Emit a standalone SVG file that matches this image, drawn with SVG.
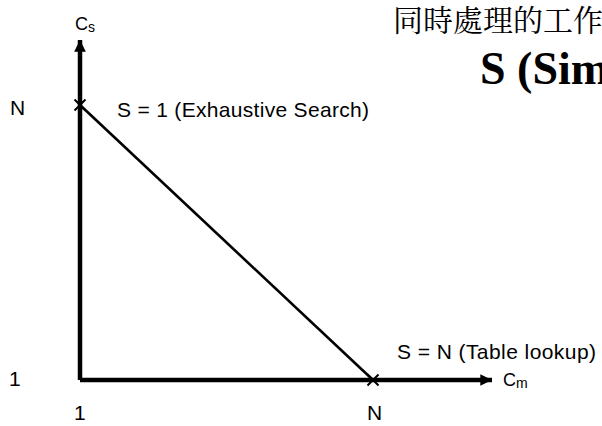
<svg xmlns="http://www.w3.org/2000/svg" width="602" height="426" viewBox="0 0 602 426">
<style>
.lbl{font-family:"Liberation Sans",Arial,sans-serif;font-size:21px;fill:#000}
.ax{font-family:"Liberation Sans",Arial,sans-serif;font-size:18px;fill:#000}
.sub{font-size:14px}
.axis{stroke:#000;stroke-width:4.5;fill:none}
.diag{stroke:#000;stroke-width:2.6;fill:none}
.mark{stroke:#000;stroke-width:2;fill:none}
</style>
<defs>
<marker id="ah" viewBox="0 0 10 10" refX="10" refY="5" markerWidth="4.6" markerHeight="2.6" markerUnits="strokeWidth" orient="auto">
<path d="M0,0 L10,5 L0,10 Z" fill="#000"/>
</marker>
</defs>
<rect width="602" height="426" fill="#fff"/>
<g id="title">
<text x="393" y="31" style="font-family:'Noto Serif CJK TC','Noto Sans CJK TC',serif;font-size:30px">同時處理的工作</text>
<text x="480" y="84" style="font-family:'Liberation Serif','Times New Roman',serif;font-size:46px;font-weight:bold">S (Sim</text>
</g>
<g id="connectors">
<path class="axis" d="M80,380 L80,40" marker-end="url(#ah)"/>
<path class="axis" d="M80,380 L492,380" marker-end="url(#ah)"/>
<path class="diag" d="M80,105 L373,380"/>
</g>
<g id="marks">
<path class="mark" d="M74.5,99.5 L85.5,110.5 M85.5,99.5 L74.5,110.5"/>
<path class="mark" d="M367.5,374.5 L378.5,385.5 M378.5,374.5 L367.5,385.5"/>
</g>
<g id="labels">
<text class="ax" x="75" y="30">C<tspan class="sub" dy="2">s</tspan></text>
<text class="ax" x="503" y="386">C<tspan class="sub" dy="2">m</tspan></text>
<text class="lbl" x="10" y="115">N</text>
<text class="lbl" x="9" y="386">1</text>
<text class="lbl" x="74" y="420">1</text>
<text class="lbl" x="367" y="420">N</text>
<text class="lbl" x="117" y="117" textLength="252" lengthAdjust="spacing">S = 1 (Exhaustive Search)</text>
<text class="lbl" x="397" y="359" textLength="199" lengthAdjust="spacing">S = N (Table lookup)</text>
</g>
</svg>
